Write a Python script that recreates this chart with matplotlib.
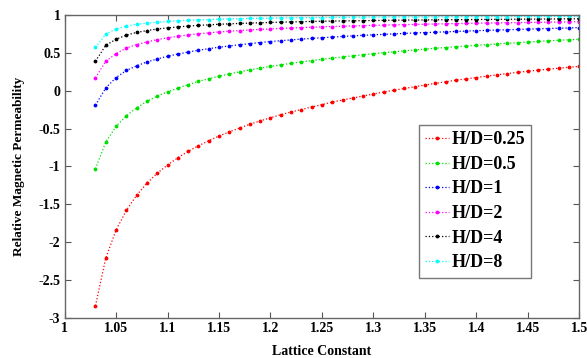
"""Relative magnetic permeability versus lattice constant for several H/D ratios."""

import matplotlib

matplotlib.use("Agg")
import matplotlib.pyplot as plt

lattice = [
    1.03, 1.04, 1.05, 1.06, 1.07, 1.08, 1.09, 1.10, 1.11, 1.12, 1.13, 1.14,
    1.15, 1.16, 1.17, 1.18, 1.19, 1.20, 1.21, 1.22, 1.23, 1.24, 1.25, 1.26,
    1.27, 1.28, 1.29, 1.30, 1.31, 1.32, 1.33, 1.34, 1.35, 1.36, 1.37, 1.38,
    1.39, 1.40, 1.41, 1.42, 1.43, 1.44, 1.45, 1.46, 1.47, 1.48, 1.49, 1.50,
]

mu_hd_025 = [
    -2.84, -2.21, -1.84, -1.58, -1.38, -1.22, -1.09, -0.98, -0.885, -0.80, -0.727, -0.66,
    -0.598, -0.543, -0.492, -0.443, -0.398, -0.356, -0.317, -0.28, -0.248, -0.215, -0.183, -0.15,
    -0.122, -0.095, -0.069, -0.042, -0.017, 0.007, 0.03, 0.053, 0.075, 0.097, 0.118, 0.139,
    0.157, 0.175, 0.193, 0.21, 0.227, 0.243, 0.258, 0.272, 0.285, 0.298, 0.31, 0.321,
]
mu_hd_05 = [
    -1.03, -0.68, -0.47, -0.33, -0.225, -0.14, -0.07, -0.015, 0.035, 0.08, 0.123, 0.16,
    0.192, 0.222, 0.25, 0.275, 0.299, 0.321, 0.342, 0.362, 0.381, 0.399, 0.416, 0.432,
    0.447, 0.462, 0.476, 0.49, 0.503, 0.515, 0.527, 0.539, 0.55, 0.561, 0.571, 0.581,
    0.591, 0.60, 0.609, 0.618, 0.627, 0.635, 0.643, 0.651, 0.659, 0.666, 0.673, 0.68,
]
mu_hd_1 = [
    -0.19, 0.037, 0.175, 0.268, 0.33, 0.38, 0.42, 0.455, 0.485, 0.511, 0.535, 0.556,
    0.575, 0.592, 0.608, 0.623, 0.637, 0.65, 0.661, 0.672, 0.682, 0.691, 0.70, 0.709,
    0.717, 0.725, 0.732, 0.739, 0.745, 0.751, 0.757, 0.763, 0.768, 0.773, 0.778, 0.783,
    0.788, 0.793, 0.798, 0.802, 0.806, 0.81, 0.814, 0.818, 0.822, 0.826, 0.83, 0.834,
]
mu_hd_2 = [
    0.17, 0.39, 0.49, 0.565, 0.61, 0.645, 0.675, 0.70, 0.72, 0.737, 0.752, 0.765,
    0.776, 0.786, 0.795, 0.803, 0.81, 0.817, 0.823, 0.829, 0.834, 0.839, 0.844, 0.848,
    0.852, 0.856, 0.86, 0.864, 0.867, 0.87, 0.873, 0.876, 0.879, 0.882, 0.885, 0.887,
    0.889, 0.892, 0.894, 0.896, 0.898, 0.90, 0.902, 0.904, 0.906, 0.908, 0.91, 0.912,
]
mu_hd_4 = [
    0.39, 0.60, 0.68, 0.735, 0.77, 0.795, 0.815, 0.83, 0.843, 0.854, 0.863, 0.871,
    0.878, 0.884, 0.889, 0.894, 0.898, 0.902, 0.906, 0.909, 0.912, 0.915, 0.918, 0.92,
    0.922, 0.924, 0.926, 0.928, 0.93, 0.931, 0.933, 0.934, 0.935, 0.937, 0.938, 0.939,
    0.94, 0.941, 0.942, 0.943, 0.944, 0.945, 0.946, 0.947, 0.948, 0.949, 0.95, 0.951,
]
mu_hd_8 = [
    0.572, 0.748, 0.815, 0.854, 0.877, 0.893, 0.905, 0.915, 0.923, 0.93, 0.936, 0.941,
    0.945, 0.949, 0.952, 0.955, 0.957, 0.959, 0.961, 0.963, 0.964, 0.966, 0.967, 0.968,
    0.969, 0.97, 0.971, 0.972, 0.973, 0.974, 0.975, 0.975, 0.976, 0.977, 0.977, 0.978,
    0.978, 0.979, 0.979, 0.98, 0.98, 0.981, 0.981, 0.982, 0.982, 0.982, 0.983, 0.983,
]

series_labels = ["H/D=0.25", "H/D=0.5", "H/D=1", "H/D=2", "H/D=4", "H/D=8"]
series_values = [mu_hd_025, mu_hd_05, mu_hd_1, mu_hd_2, mu_hd_4, mu_hd_8]
series_colors = ["#ff0000", "#00e000", "#0000ff", "#ff00ff", "#000000", "#00ffff"]

x_ticks = [1, 1.05, 1.1, 1.15, 1.2, 1.25, 1.3, 1.35, 1.4, 1.45, 1.5]
x_tick_labels = ["1", "1.05", "1.1", "1.15", "1.2", "1.25", "1.3", "1.35", "1.4", "1.45", "1.5"]
y_ticks = [-3, -2.5, -2, -1.5, -1, -0.5, 0, 0.5, 1]
y_tick_labels = ["-3", "-2.5", "-2", "-1.5", "-1", "-0.5", "0", "0.5", "1"]

FONT = ["Liberation Serif", "DejaVu Serif"]
plt.rcParams["font.family"] = FONT
plt.rcParams["font.weight"] = "bold"

fig = plt.figure(figsize=(5.87, 3.58), dpi=100)
ax = fig.add_axes([0.110, 0.112, 0.877, 0.846])

for label, values, color in zip(series_labels, series_values, series_colors):
    ax.plot(
        lattice, values,
        linestyle=":", linewidth=0.9, color=color,
        marker=".", markersize=3.5, label=label,
    )

ax.set_xlim(1, 1.5)
ax.set_ylim(-3, 1)
ax.set_xticks(x_ticks)
ax.set_xticklabels(x_tick_labels)
ax.set_yticks(y_ticks)
ax.set_yticklabels(y_tick_labels)
ax.tick_params(
    direction="in", top=True, right=True, length=4, width=0.8,
    color="#555555", labelsize=10, pad=3,
)
for spine in ax.spines.values():
    spine.set_color("#666666")
    spine.set_linewidth(1.0)

ax.set_xlabel("Lattice Constant", fontsize=10, fontweight="bold", labelpad=7)
ax.set_ylabel("Relative Magnetic Permeability", fontsize=9.5, fontweight="bold", labelpad=10)

legend = ax.legend(
    loc="upper left", bbox_to_anchor=(0.688, 0.637), borderaxespad=0,
    handlelength=1.3, handletextpad=0.15, labelspacing=0.42,
    borderpad=0.35, fancybox=False, framealpha=1, markerscale=1.0,
    prop={"family": FONT, "weight": "bold", "size": 13},
)
legend.get_frame().set_edgecolor("#777777")
legend.get_frame().set_linewidth(1.0)

fig.savefig("out.png", dpi=100)
plt.close(fig)
